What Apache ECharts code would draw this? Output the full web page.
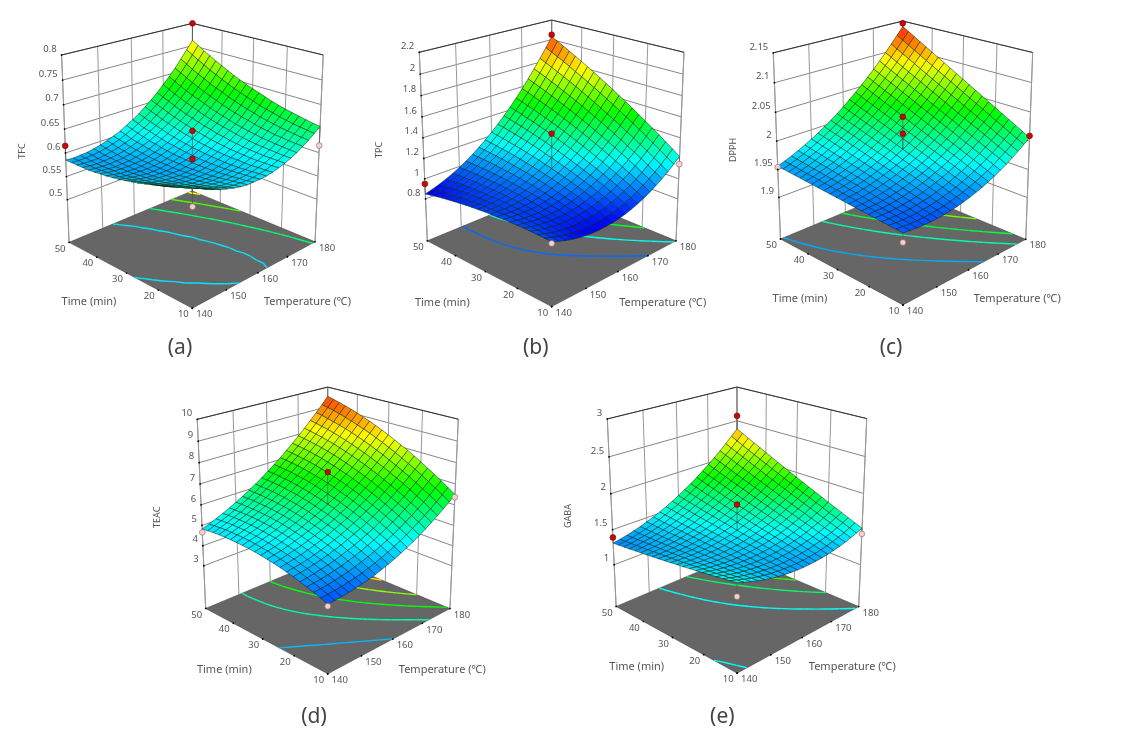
<!DOCTYPE html><html><head><meta charset="utf-8"><style>html,body{margin:0;padding:0;background:#fff}#c{width:1122px;height:739px}</style>
<script src="https://cdn.jsdelivr.net/npm/echarts@6/dist/echarts.min.js"></script></head><body><div id="c"></div><script>
// Surface heights. Rows: time 10..50 min. Columns: temperature 140..180 C.
const tfcSurface=[
[.640,.631,.624,.617,.611,.607,.603,.600,.598,.598,.598,.599,.601,.605,.609,.614,.620,.628,.636,.645,.655],
[.634,.626,.619,.612,.607,.603,.599,.597,.596,.595,.596,.598,.600,.604,.609,.614,.621,.629,.637,.647,.657],
[.629,.621,.614,.608,.603,.599,.596,.594,.594,.594,.595,.597,.600,.604,.609,.615,.622,.630,.639,.649,.660],
[.623,.616,.609,.604,.600,.596,.594,.592,.592,.592,.594,.596,.599,.604,.609,.616,.623,.632,.641,.651,.663],
[.618,.611,.605,.600,.596,.593,.591,.590,.590,.591,.593,.595,.599,.604,.610,.617,.625,.633,.643,.654,.666],
[.614,.607,.602,.597,.593,.590,.589,.588,.588,.590,.592,.595,.600,.605,.611,.618,.626,.636,.646,.657,.669],
[.610,.603,.598,.594,.591,.588,.587,.587,.587,.589,.592,.595,.600,.606,.612,.620,.629,.638,.649,.661,.673],
[.606,.600,.595,.591,.588,.586,.586,.586,.587,.589,.592,.596,.601,.607,.614,.622,.631,.641,.652,.664,.677],
[.602,.597,.592,.589,.586,.585,.584,.585,.586,.589,.592,.597,.602,.609,.616,.625,.634,.645,.656,.668,.682],
[.599,.594,.590,.587,.585,.584,.584,.584,.586,.589,.593,.598,.604,.611,.619,.628,.637,.648,.660,.673,.687],
[.596,.591,.588,.585,.583,.583,.583,.584,.587,.590,.594,.600,.606,.613,.621,.631,.641,.652,.664,.678,.692],
[.593,.589,.586,.584,.582,.582,.583,.585,.587,.591,.596,.601,.608,.616,.625,.634,.645,.656,.669,.683,.697],
[.591,.587,.584,.583,.582,.582,.583,.585,.588,.592,.598,.604,.611,.619,.628,.638,.649,.661,.674,.688,.703],
[.589,.586,.583,.582,.581,.582,.584,.586,.590,.594,.600,.606,.614,.622,.632,.642,.654,.666,.680,.694,.709],
[.588,.585,.583,.582,.582,.583,.584,.587,.591,.596,.602,.609,.617,.626,.636,.647,.659,.671,.685,.700,.716],
[.586,.584,.582,.581,.582,.583,.586,.589,.593,.599,.605,.612,.621,.630,.640,.652,.664,.677,.691,.707,.723],
[.585,.583,.582,.582,.583,.584,.587,.591,.596,.601,.608,.616,.625,.634,.645,.657,.669,.683,.698,.713,.730],
[.585,.583,.582,.583,.584,.586,.589,.593,.598,.605,.612,.620,.629,.639,.650,.662,.675,.689,.704,.721,.738],
[.585,.583,.583,.583,.585,.588,.591,.596,.601,.608,.615,.624,.634,.644,.656,.668,.681,.696,.711,.728,.745],
[.585,.584,.584,.585,.587,.590,.594,.599,.605,.612,.620,.628,.638,.649,.661,.674,.688,.703,.719,.736,.754],
[.585,.584,.585,.586,.589,.592,.597,.602,.608,.616,.624,.633,.644,.655,.667,.681,.695,.710,.727,.744,.762]
];
const tpcSurface=[
[.960,.934,.912,.894,.880,.870,.864,.863,.866,.872,.883,.898,.918,.941,.968,1.000,1.036,1.076,1.120,1.168,1.220],
[.963,.939,.919,.903,.891,.884,.881,.881,.886,.896,.909,.926,.948,.973,1.003,1.037,1.075,1.117,1.164,1.214,1.269],
[.964,.942,.925,.912,.902,.897,.896,.899,.906,.918,.933,.953,.977,1.005,1.037,1.073,1.113,1.158,1.206,1.259,1.316],
[.965,.946,.930,.919,.912,.909,.911,.916,.926,.939,.957,.979,1.005,1.036,1.070,1.108,1.151,1.198,1.249,1.304,1.363],
[.965,.948,.935,.926,.921,.921,.924,.932,.944,.960,.980,1.004,1.033,1.065,1.102,1.143,1.188,1.237,1.290,1.347,1.409],
[.964,.949,.939,.932,.930,.931,.937,.947,.962,.980,1.002,1.029,1.060,1.094,1.133,1.176,1.224,1.275,1.331,1.390,1.454],
[.962,.950,.942,.937,.937,.941,.949,.962,.978,.999,1.024,1.052,1.085,1.123,1.164,1.209,1.259,1.313,1.370,1.432,1.498],
[.960,.950,.944,.942,.944,.950,.961,.975,.994,1.017,1.044,1.075,1.110,1.150,1.193,1.241,1.293,1.349,1.409,1.473,1.542],
[.956,.948,.945,.945,.950,.958,.971,.988,1.009,1.034,1.064,1.097,1.135,1.176,1.222,1.272,1.326,1.385,1.447,1.514,1.584],
[.952,.947,.945,.948,.955,.966,.981,1.000,1.023,1.051,1.082,1.118,1.158,1.202,1.250,1.303,1.359,1.420,1.484,1.553,1.626],
[.947,.944,.945,.950,.959,.972,.989,1.011,1.037,1.066,1.100,1.138,1.181,1.227,1.277,1.332,1.391,1.454,1.521,1.592,1.667],
[.941,.940,.943,.951,.962,.978,.997,1.021,1.049,1.081,1.117,1.158,1.202,1.251,1.304,1.361,1.422,1.487,1.556,1.630,1.707],
[.934,.936,.941,.951,.964,.982,1.004,1.030,1.061,1.095,1.134,1.176,1.223,1.274,1.329,1.388,1.452,1.519,1.591,1.666,1.746],
[.927,.930,.938,.950,.966,.986,1.010,1.039,1.071,1.108,1.149,1.194,1.243,1.296,1.354,1.415,1.481,1.551,1.625,1.703,1.785],
[.918,.924,.934,.949,.967,.989,1.016,1.047,1.081,1.120,1.164,1.211,1.262,1.318,1.377,1.441,1.509,1.581,1.658,1.738,1.822],
[.909,.917,.930,.946,.967,.991,1.020,1.053,1.091,1.132,1.177,1.227,1.281,1.338,1.400,1.466,1.537,1.611,1.690,1.772,1.859],
[.899,.909,.924,.943,.966,.993,1.024,1.059,1.099,1.142,1.190,1.242,1.298,1.358,1.422,1.491,1.563,1.640,1.721,1.806,1.895],
[.888,.901,.918,.939,.964,.993,1.027,1.065,1.106,1.152,1.202,1.256,1.315,1.377,1.444,1.514,1.589,1.668,1.751,1.839,1.930],
[.876,.891,.911,.934,.961,.993,1.029,1.069,1.113,1.161,1.213,1.270,1.330,1.395,1.464,1.537,1.614,1.696,1.781,1.870,1.964],
[.864,.881,.903,.928,.958,.992,1.030,1.072,1.119,1.169,1.224,1.283,1.345,1.413,1.484,1.559,1.638,1.722,1.810,1.902,1.998],
[.850,.870,.894,.922,.954,.990,1.030,1.075,1.124,1.176,1.233,1.294,1.360,1.429,1.502,1.580,1.662,1.748,1.838,1.932,2.030]
];
const dpphSurface=[
[1.94,1.9386,1.9376,1.9372,1.9372,1.9378,1.9388,1.9404,1.9424,1.945,1.948,1.9516,1.9556,1.9602,1.9652,1.9708,1.9768,1.9834,1.9904,1.998,2.006],
[1.9408,1.9397,1.939,1.9389,1.9392,1.9401,1.9414,1.9433,1.9456,1.9485,1.9518,1.9556,1.9599,1.9648,1.9701,1.976,1.9823,1.9892,1.9965,2.0044,2.0127],
[1.9416,1.9408,1.9404,1.9406,1.9412,1.9424,1.9439,1.9461,1.9487,1.9519,1.9555,1.9597,1.9643,1.9695,1.9751,1.9813,1.9878,1.995,2.0026,2.0107,2.0194],
[1.9424,1.9419,1.9418,1.9423,1.9431,1.9446,1.9465,1.9489,1.9519,1.9554,1.9593,1.9637,1.9686,1.9741,1.98,1.9865,1.9934,2.0008,2.0087,2.0172,2.0261],
[1.9432,1.943,1.9432,1.9439,1.9451,1.9468,1.9491,1.9518,1.955,1.9588,1.963,1.9678,1.973,1.9788,1.985,1.9918,1.9989,2.0067,2.0148,2.0236,2.0328],
[1.944,1.9441,1.9446,1.9456,1.9471,1.9492,1.9517,1.9547,1.9582,1.9623,1.9668,1.9718,1.9773,1.9834,1.9899,1.9969,2.0044,2.0125,2.021,2.0299,2.0395],
[1.9448,1.9452,1.9459,1.9472,1.9491,1.9514,1.9542,1.9576,1.9614,1.9657,1.9705,1.9758,1.9816,1.988,1.9948,2.0021,2.0099,2.0182,2.0271,2.0364,2.0462],
[1.9456,1.9463,1.9473,1.949,1.9511,1.9537,1.9568,1.9605,1.9645,1.9692,1.9743,1.9799,1.986,1.9926,1.9997,2.0074,2.0154,2.0241,2.0332,2.0428,2.0529],
[1.9464,1.9474,1.9487,1.9507,1.953,1.956,1.9594,1.9633,1.9677,1.9726,1.978,1.984,1.9903,1.9973,2.0046,2.0126,2.021,2.0299,2.0393,2.0492,2.0596],
[1.9472,1.9485,1.9501,1.9524,1.955,1.9583,1.9619,1.9661,1.9708,1.976,1.9818,1.988,1.9947,2.0019,2.0096,2.0178,2.0265,2.0357,2.0454,2.0556,2.0663],
[1.948,1.9496,1.9515,1.9541,1.957,1.9605,1.9645,1.969,1.974,1.9796,1.9855,1.9921,1.999,2.0066,2.0145,2.0231,2.032,2.0416,2.0515,2.0621,2.073],
[1.9488,1.9506,1.9529,1.9557,1.959,1.9628,1.9671,1.9719,1.9772,1.983,1.9893,1.9961,2.0033,2.0112,2.0194,2.0283,2.0375,2.0474,2.0576,2.0685,2.0797],
[1.9496,1.9517,1.9543,1.9574,1.961,1.9651,1.9696,1.9748,1.9803,1.9865,1.993,2.0001,2.0077,2.0158,2.0244,2.0335,2.043,2.0532,2.0637,2.0749,2.0864],
[1.9504,1.9528,1.9557,1.9591,1.9629,1.9674,1.9722,1.9776,1.9835,1.9899,1.9968,2.0042,2.012,2.0205,2.0293,2.0387,2.0486,2.059,2.0698,2.0813,2.0931],
[1.9512,1.9539,1.9571,1.9608,1.9649,1.9697,1.9748,1.9805,1.9866,1.9934,2.0005,2.0082,2.0164,2.0251,2.0342,2.044,2.0541,2.0648,2.0759,2.0876,2.0998],
[1.952,1.955,1.9585,1.9625,1.9669,1.9718,1.9774,1.9834,1.9898,1.9968,2.0043,2.0123,2.0207,2.0297,2.0392,2.0492,2.0596,2.0707,2.0821,2.094,2.1065],
[1.9528,1.9561,1.9598,1.9642,1.9689,1.9742,1.9799,1.9862,1.993,2.0003,2.008,2.0163,2.025,2.0344,2.0441,2.0544,2.0651,2.0764,2.0882,2.1005,2.1132],
[1.9536,1.9572,1.9612,1.9658,1.9709,1.9764,1.9825,1.9891,1.9961,2.0037,2.0118,2.0204,2.0294,2.039,2.049,2.0596,2.0706,2.0823,2.0943,2.1069,2.1199],
[1.9544,1.9583,1.9626,1.9675,1.9728,1.9787,1.9851,1.992,1.9993,2.0072,2.0155,2.0244,2.0337,2.0436,2.0539,2.0648,2.0762,2.0881,2.1004,2.1133,2.1266],
[1.9552,1.9594,1.964,1.9692,1.9748,1.981,1.9876,1.9948,2.0024,2.0106,2.0193,2.0285,2.0381,2.0483,2.0589,2.0701,2.0817,2.0939,2.1065,2.1197,2.1333],
[1.956,1.9605,1.9654,1.9709,1.9768,1.9833,1.9902,1.9977,2.0056,2.0141,2.023,2.0326,2.0424,2.0529,2.0638,2.0753,2.0872,2.0998,2.1127,2.1262,2.14]
];
const teacSurface=[
[3.99,4.00,4.03,4.07,4.12,4.18,4.25,4.33,4.43,4.54,4.66,4.79,4.93,5.08,5.25,5.43,5.62,5.82,6.03,6.25,6.49],
[4.11,4.13,4.16,4.20,4.26,4.32,4.40,4.49,4.59,4.71,4.83,4.97,5.11,5.27,5.45,5.63,5.82,6.03,6.25,6.48,6.72],
[4.22,4.24,4.28,4.33,4.39,4.46,4.55,4.64,4.75,4.87,5.00,5.14,5.29,5.46,5.63,5.82,6.02,6.23,6.46,6.69,6.94],
[4.32,4.35,4.39,4.45,4.51,4.59,4.68,4.78,4.89,5.02,5.15,5.30,5.46,5.63,5.81,6.01,6.21,6.43,6.66,6.90,7.15],
[4.41,4.45,4.50,4.56,4.63,4.71,4.81,4.91,5.03,5.16,5.30,5.45,5.62,5.80,5.98,6.18,6.39,6.62,6.85,7.10,7.35],
[4.50,4.54,4.60,4.66,4.74,4.83,4.93,5.04,5.16,5.30,5.44,5.60,5.77,5.95,6.15,6.35,6.57,6.80,7.04,7.29,7.55],
[4.58,4.63,4.68,4.75,4.84,4.93,5.04,5.15,5.28,5.42,5.58,5.74,5.91,6.10,6.30,6.51,6.73,6.97,7.21,7.47,7.74],
[4.65,4.70,4.77,4.84,4.93,5.03,5.14,5.26,5.40,5.54,5.70,5.87,6.05,6.24,6.45,6.66,6.89,7.13,7.38,7.64,7.92],
[4.71,4.77,4.84,4.92,5.01,5.12,5.23,5.36,5.50,5.65,5.82,5.99,6.18,6.38,6.59,6.81,7.04,7.29,7.54,7.81,8.09],
[4.76,4.83,4.90,4.99,5.09,5.20,5.32,5.46,5.60,5.76,5.93,6.11,6.30,6.50,6.72,6.94,7.18,7.43,7.70,7.97,8.25],
[4.81,4.88,4.96,5.05,5.16,5.27,5.40,5.54,5.69,5.85,6.03,6.21,6.41,6.62,6.84,7.07,7.32,7.57,7.84,8.12,8.41],
[4.85,4.92,5.01,5.11,5.22,5.34,5.47,5.62,5.77,5.94,6.12,6.31,6.52,6.73,6.96,7.19,7.44,7.70,7.98,8.26,8.56],
[4.88,4.96,5.05,5.15,5.27,5.40,5.53,5.69,5.85,6.02,6.21,6.40,6.61,6.83,7.06,7.31,7.56,7.83,8.11,8.40,8.70],
[4.90,4.99,5.08,5.19,5.31,5.45,5.59,5.75,5.91,6.09,6.28,6.49,6.70,6.92,7.16,7.41,7.67,7.94,8.23,8.52,8.83],
[4.91,5.01,5.11,5.22,5.35,5.49,5.64,5.80,5.97,6.16,6.35,6.56,6.78,7.01,7.25,7.51,7.77,8.05,8.34,8.64,8.95],
[4.92,5.02,5.13,5.25,5.38,5.52,5.68,5.84,6.02,6.21,6.41,6.63,6.85,7.09,7.34,7.60,7.87,8.15,8.45,8.75,9.07],
[4.92,5.02,5.13,5.26,5.40,5.55,5.71,5.88,6.06,6.26,6.47,6.68,6.92,7.16,7.41,7.68,7.95,8.24,8.54,8.85,9.18],
[4.91,5.02,5.14,5.27,5.41,5.56,5.73,5.91,6.10,6.30,6.51,6.74,6.97,7.22,7.48,7.75,8.03,8.33,8.63,8.95,9.28],
[4.89,5.00,5.13,5.27,5.41,5.57,5.75,5.93,6.12,6.33,6.55,6.78,7.02,7.27,7.54,7.81,8.10,8.40,8.71,9.04,9.37],
[4.86,4.98,5.11,5.26,5.41,5.58,5.75,5.94,6.14,6.35,6.58,6.81,7.06,7.32,7.59,7.87,8.16,8.47,8.79,9.11,9.45],
[4.83,4.95,5.09,5.24,5.40,5.57,5.75,5.95,6.15,6.37,6.60,6.84,7.09,7.36,7.63,7.92,8.22,8.53,8.85,9.18,9.53]
];
const gabaSurface=[
[1.550,1.514,1.481,1.452,1.426,1.405,1.387,1.372,1.362,1.355,1.351,1.352,1.356,1.363,1.375,1.390,1.408,1.431,1.457,1.487,1.520],
[1.535,1.501,1.471,1.445,1.422,1.403,1.388,1.377,1.369,1.364,1.364,1.367,1.374,1.384,1.398,1.416,1.437,1.463,1.491,1.524,1.560],
[1.520,1.489,1.462,1.439,1.419,1.402,1.390,1.381,1.376,1.374,1.377,1.382,1.392,1.405,1.422,1.442,1.467,1.495,1.526,1.561,1.600],
[1.506,1.478,1.453,1.432,1.415,1.402,1.392,1.386,1.383,1.385,1.390,1.398,1.410,1.426,1.446,1.469,1.496,1.527,1.561,1.599,1.641],
[1.492,1.466,1.444,1.426,1.412,1.401,1.394,1.391,1.391,1.395,1.403,1.414,1.429,1.448,1.470,1.496,1.526,1.559,1.596,1.637,1.682],
[1.478,1.455,1.436,1.421,1.409,1.401,1.397,1.396,1.399,1.406,1.417,1.431,1.448,1.470,1.495,1.524,1.556,1.592,1.632,1.676,1.723],
[1.464,1.445,1.428,1.416,1.407,1.402,1.400,1.402,1.408,1.418,1.431,1.448,1.468,1.492,1.520,1.552,1.587,1.626,1.668,1.715,1.764],
[1.451,1.434,1.421,1.411,1.405,1.402,1.403,1.408,1.417,1.429,1.445,1.465,1.488,1.515,1.545,1.580,1.618,1.659,1.705,1.754,1.806],
[1.438,1.424,1.413,1.406,1.403,1.403,1.407,1.415,1.426,1.441,1.460,1.482,1.508,1.538,1.571,1.608,1.649,1.693,1.741,1.793,1.848],
[1.426,1.414,1.406,1.402,1.401,1.404,1.411,1.422,1.436,1.453,1.475,1.500,1.529,1.561,1.597,1.637,1.680,1.728,1.778,1.833,1.891],
[1.414,1.405,1.400,1.398,1.400,1.406,1.416,1.429,1.445,1.466,1.490,1.518,1.549,1.585,1.624,1.666,1.712,1.762,1.816,1.873,1.934],
[1.402,1.396,1.393,1.395,1.399,1.408,1.420,1.436,1.456,1.479,1.506,1.536,1.571,1.609,1.650,1.695,1.744,1.797,1.853,1.913,1.977],
[1.390,1.387,1.387,1.391,1.399,1.410,1.425,1.444,1.466,1.492,1.522,1.555,1.592,1.633,1.677,1.725,1.777,1.832,1.891,1.954,2.020],
[1.379,1.379,1.382,1.388,1.399,1.413,1.430,1.452,1.477,1.506,1.538,1.574,1.614,1.657,1.704,1.755,1.810,1.868,1.930,1.995,2.064],
[1.368,1.371,1.376,1.386,1.399,1.416,1.436,1.460,1.488,1.520,1.555,1.594,1.636,1.682,1.732,1.786,1.843,1.904,1.968,2.037,2.108],
[1.358,1.363,1.371,1.383,1.399,1.419,1.442,1.469,1.499,1.534,1.572,1.613,1.658,1.707,1.760,1.816,1.876,1.940,2.007,2.078,2.153],
[1.348,1.355,1.367,1.381,1.400,1.422,1.448,1.478,1.511,1.548,1.589,1.633,1.681,1.733,1.788,1.847,1.910,1.976,2.047,2.120,2.198],
[1.338,1.348,1.362,1.380,1.401,1.426,1.455,1.487,1.523,1.563,1.607,1.654,1.704,1.759,1.817,1.879,1.944,2.013,2.086,2.163,2.243],
[1.328,1.341,1.358,1.379,1.403,1.430,1.462,1.497,1.536,1.578,1.625,1.674,1.728,1.785,1.846,1.910,1.979,2.051,2.126,2.205,2.288],
[1.319,1.335,1.354,1.378,1.404,1.435,1.469,1.507,1.549,1.594,1.643,1.695,1.752,1.812,1.875,1.942,2.013,2.088,2.166,2.248,2.334],
[1.310,1.329,1.351,1.377,1.406,1.440,1.477,1.517,1.562,1.610,1.661,1.717,1.776,1.838,1.905,1.975,2.048,2.126,2.207,2.292,2.380]
];
const timeTicks=[10,20,30,40,50];
const tempTicks=[140,150,160,170,180];
const tfcTicks=[.5,.55,.6,.65,.7,.75,.8];
const tpcTicks=[.8,1,1.2,1.4,1.6,1.8,2,2.2];
const dpphTicks=[1.9,1.95,2,2.05,2.1,2.15];
const teacTicks=[3,4,5,6,7,8,9,10];
const gabaTicks=[1,1.5,2,2.5,3];
const tfcLevels=[.6,.65,.7,.75];
const tpcLevels=[1,1.2,1.44,1.66];
const dpphLevels=[1.958,1.993,2.019,2.056];
const teacLevels=[4.67,5.66,6.6,7.55,8.5];
const gabaLevels=[1.5,1.72,1.92,2.12];
// Design points: time, temperature, response, above-surface flag
const tfcPoints=[[50,180,.8,1],[50,140,.615,1],[10,180,.615,0],[10,140,.602,0],[30,160,.646,1],[30,160,.587,1]];
const tpcPoints=[[50,180,2.05,1],[50,140,.95,1],[10,180,1.144,0],[10,140,.945,0],[30,160,1.44,1]];
const dpphPoints=[[50,180,2.146,1],[50,140,1.954,0],[10,180,2.009,1],[10,140,1.925,0],[30,160,2.042,1],[30,160,2.013,1]];
const teacPoints=[[50,140,4.66,0],[10,180,6.37,0],[10,140,3.89,0],[30,160,7.56,1]];
const gabaPoints=[[50,180,2.575,1],[50,140,1.39,1],[10,180,1.44,0],[10,140,1.376,0],[30,160,1.85,1]];
const panels=[
{name:'TFC',caption:'(a)',s:tfcSurface,zmin:.406,ticks:tfcTicks,top:.8,lo:.535,hi:.825,levels:tfcLevels,pts:tfcPoints,
 c:{F:[192.3,308.3],L:[69,242.3],R:[315,241.7],B:[192.3,191],LT:[61.7,55],RT:[323.3,55],BT:[192.3,23.3]},time:[89,302],temp:[307.5,302],zl:[22,151],cap:[180,348]},
{name:'TPC',caption:'(b)',s:tpcSurface,zmin:.374,ticks:tpcTicks,top:2.2,lo:.87,hi:2.1,levels:tpcLevels,pts:tpcPoints,
 c:{F:[551.7,306.7],L:[427.3,240.7],R:[676,240.7],B:[551.7,189.7],LT:[419.3,52.3],RT:[684,52.3],BT:[551.7,20]},time:[442.3,303],temp:[662.7,303],zl:[379.3,150],cap:[535.7,348]},
{name:'DPPH',caption:'(c)',s:dpphSurface,zmin:1.824,ticks:dpphTicks,top:2.15,lo:1.92,hi:2.145,levels:dpphLevels,pts:dpphPoints,
 c:{F:[902.7,305],L:[780.7,239],R:[1026,239],B:[902.7,188.3],LT:[773.3,52.7],RT:[1032.7,52.7],BT:[902.7,21]},time:[800,299],temp:[1017.3,299],zl:[733.3,150],cap:[891,348]},
{name:'TEAC',caption:'(d)',s:teacSurface,zmin:.82,ticks:teacTicks,top:10,lo:3.5,hi:9.85,levels:teacLevels,pts:teacPoints,
 c:{F:[327.7,674],L:[205.7,608.3],R:[450,608.3],B:[327.7,557.7],LT:[197.3,419.3],RT:[458.3,419.3],BT:[327.7,387]},time:[224.3,670],temp:[442.3,670],zl:[157.7,517.3],cap:[314,716.7]},
{name:'GABA',caption:'(e)',s:gabaSurface,zmin:.388,ticks:gabaTicks,top:3,lo:1.12,hi:2.62,levels:gabaLevels,pts:gabaPoints,
 c:{F:[737.7,673.3],L:[615.7,606],R:[858.3,606.7],B:[737.7,555.3],LT:[607.3,419.3],RT:[866.7,418.3],BT:[737,387]},time:[636.7,667.3],temp:[852.3,667.3],zl:[568.3,516],cap:[722.3,716.7]}
];
const GREY='#555',FONT='"Noto Sans",sans-serif';
function solve(A,b){const n=b.length;for(let i=0;i<n;i++){let m=i;for(let k=i+1;k<n;k++)if(Math.abs(A[k][i])>Math.abs(A[m][i]))m=k;[A[i],A[m]]=[A[m],A[i]];[b[i],b[m]]=[b[m],b[i]];for(let k=i+1;k<n;k++){const f=A[k][i]/A[i][i];for(let l=i;l<n;l++)A[k][l]-=f*A[i][l];b[k]-=f*b[i]}}const x=Array(n).fill(0);for(let i=n-1;i>=0;i--){let s=b[i];for(let l=i+1;l<n;l++)s-=A[i][l]*x[l];x[i]=s/A[i][i]}return x}
function camera(c){const cx=c.F[0],cy=c.B[1];const P=[[0,0,0,c.F],[1,0,0,c.L],[0,1,0,c.R],[1,1,0,c.B],[1,0,1,c.LT],[0,1,1,c.RT],[1,1,1,c.BT]];
 const rows=[],rhs=[];for(const [U,V,W,pt] of P){const x=(pt[0]-cx)/100,y=(pt[1]-cy)/100;rows.push([U,V,W,1,0,0,0,0,-x*U,-x*V,-x*W]);rhs.push(x);rows.push([0,0,0,0,U,V,W,1,-y*U,-y*V,-y*W]);rhs.push(y)}
 const A=[],b=[];for(let i=0;i<11;i++){A.push(Array(11).fill(0));b.push(0);for(let r=0;r<rows.length;r++){b[i]+=rows[r][i]*rhs[r];for(let j=0;j<11;j++)A[i][j]+=rows[r][i]*rows[r][j]}}
 for(let i=0;i<11;i++)A[i][i]+=1e-9;const p=solve(A,b);
 return (U,V,W)=>{const d=p[8]*U+p[9]*V+p[10]*W+1;return [cx+100*(p[0]*U+p[1]*V+p[2]*W+p[3])/d,cy+100*(p[4]*U+p[5]*V+p[6]*W+p[7])/d]}}
const STOPS=[[0,0,0,255],[.25,0,255,255],[.5,0,255,0],[.75,255,255,0],[1,255,0,0]];
function cmap(t){t=Math.max(0,Math.min(1,t));for(let k=1;k<STOPS.length;k++){if(t<=STOPS[k][0]){const a=STOPS[k-1],b=STOPS[k],f=(t-a[0])/(b[0]-a[0]);return 'rgb('+[1,2,3].map(i=>Math.round(a[i]+(b[i]-a[i])*f)).join(',')+')'}}return 'rgb(255,0,0)'}
const series=[];
panels.forEach(p=>{
 const cam=camera(p.c);const N=p.s.length-1;
 const W=z=>(z-p.zmin)/(p.top-p.zmin);
 const prj=(time,temp,z)=>cam((time-10)/40,(temp-140)/40,W(z));
 const col=z=>cmap((z-p.lo)/(p.hi-p.lo));
 const line=(api,a,b,stroke,lw)=>{const A=api.coord(a),B=api.coord(b);return {type:'line',shape:{x1:A[0],y1:A[1],x2:B[0],y2:B[1]},style:{stroke,lineWidth:lw}}};
 const base={type:'custom',coordinateSystem:'cartesian2d',silent:true,animation:false,clip:false,encode:{x:0,y:1}};
 series.push(Object.assign({},base,{name:p.name+' frame',z:1,data:[[0,0]],renderItem:(x,api)=>{const ch=[];
  p.ticks.forEach(w=>{ch.push(line(api,prj(50,140,w),prj(50,180,w),'#666',.8));ch.push(line(api,prj(50,180,w),prj(10,180,w),'#666',.8))});
  tempTicks.forEach(t=>ch.push(line(api,prj(50,t,p.zmin),prj(50,t,p.top),t==180?'#777':'#999',1)));
  timeTicks.forEach(t=>ch.push(line(api,prj(t,180,p.zmin),prj(t,180,p.top),t==50?'#777':'#999',1)));
  ch.push(line(api,prj(50,140,p.zmin),prj(50,140,p.top),'#999',1));ch.push(line(api,prj(10,180,p.zmin),prj(10,180,p.top),'#999',1));
  ch.push(line(api,prj(50,140,p.top),prj(50,180,p.top),'#333',1));ch.push(line(api,prj(50,180,p.top),prj(10,180,p.top),'#333',1));
  const fl=[prj(10,140,p.zmin),prj(50,140,p.zmin),prj(50,180,p.zmin),prj(10,180,p.zmin)].map(q=>api.coord(q));
  ch.push({type:'polygon',shape:{points:fl},style:{fill:'#666',stroke:'#444',lineWidth:.6}});
  return {type:'group',children:ch}}}));
 series.push(Object.assign({},base,{name:p.name+' contours',z:2,data:p.levels.map((l,i)=>[i,0]),renderItem:(x,api)=>{const lev=p.levels[api.value(0)];const ch=[];const st=col(lev);
  const tt=i=>10+40*i/N,TT=j=>140+40*j/N;
  for(let i=0;i<N;i++)for(let j=0;j<N;j++){const C=[[i,j],[i+1,j],[i+1,j+1],[i,j+1]];const pts=[];
   for(let k=0;k<4;k++){const a=C[k],b=C[(k+1)%4],za=p.s[a[0]][a[1]],zb=p.s[b[0]][b[1]];if((za<lev)!==(zb<lev)){const f=(lev-za)/(zb-za);pts.push(prj(tt(a[0]+(b[0]-a[0])*f),TT(a[1]+(b[1]-a[1])*f),p.zmin))}}
   if(pts.length>=2)ch.push(line(api,pts[0],pts[1],st,1.4));if(pts.length==4)ch.push(line(api,pts[2],pts[3],st,1.4))}
  return {type:'group',children:ch}}}));
 const cells=[];for(let i=N-1;i>=0;i--)for(let j=N-1;j>=0;j--)cells.push([i,j]);
 cells.sort((a,b)=>(b[0]+b[1])-(a[0]+a[1]));
 series.push(Object.assign({},base,{name:p.name+' surface',z:3,data:cells,renderItem:(x,api)=>{const i=api.value(0),j=api.value(1);const C=[[i,j],[i+1,j],[i+1,j+1],[i,j+1]];let s=0;
  const pts=C.map(c=>{const z=p.s[c[0]][c[1]];s+=z;return api.coord(prj(10+40*c[0]/N,140+40*c[1]/N,z))});
  return {type:'polygon',shape:{points:pts},style:{fill:col(s/4),stroke:'rgba(10,35,15,.72)',lineWidth:.7}}}}));
 series.push(Object.assign({},base,{name:p.name+' design points',z:4,data:p.pts.map((q,i)=>[i,0]),renderItem:(x,api)=>{const q=p.pts[api.value(0)];
  const i=Math.round((q[0]-10)/40*N),j=Math.round((q[1]-140)/40*N);const a=api.coord(prj(q[0],q[1],q[2]));
  return {type:'group',children:[line(api,prj(q[0],q[1],q[2]),prj(q[0],q[1],p.s[i][j]),'#555',.7),{type:'circle',shape:{cx:a[0],cy:a[1],r:2.9},style:{fill:q[3]?'#c40a0a':'#f6cfcf',stroke:q[3]?'#700':'#866',lineWidth:.6}}]}}}));
 series.push(Object.assign({},base,{name:p.name+' labels',z:5,data:[[0,0]],renderItem:(x,api)=>{const ch=[];
  const txt=(t,pos,size,o)=>{const a=api.coord(pos);return Object.assign({type:'text',x:a[0],y:a[1],style:{text:t,fill:(o&&o.fill)||GREY,font:size+'px '+FONT,align:(o&&o.align)||'center',verticalAlign:'middle'}},o&&o.el||{})};
  const dot=q=>{const a=api.coord(q);return {type:'circle',shape:{cx:a[0],cy:a[1],r:.9},style:{fill:'#000'}}};
  p.ticks.forEach(t=>{const q=prj(50,140,t);ch.push(dot(q));ch.push(txt(String(t),[q[0]-5,q[1]-6],9.5,{align:'right'}))});
  timeTicks.forEach(t=>{const q=prj(t,140,p.zmin);ch.push(dot(q));ch.push(txt(String(t),[q[0]-9,q[1]+6.5],9.5))});
  tempTicks.forEach(t=>{const q=prj(10,t,p.zmin);ch.push(dot(q));ch.push(txt(String(t),[q[0]+12,q[1]+6.5],9.5))});
  ch.push(txt('Time (min)',p.time,11));ch.push(txt('Temperature (℃)',p.temp,11));
  ch.push(txt(p.name,p.zl,9,{el:{rotation:Math.PI/2}}));
  ch.push(txt(p.caption,p.cap,21,{fill:'#444'}));
  return {type:'group',children:ch}}}));
});
const chart=echarts.init(document.getElementById('c'));
chart.setOption({animation:false,backgroundColor:'#fff',grid:{left:0,right:0,top:0,bottom:0},xAxis:{type:'value',min:0,max:1122,show:false},yAxis:{type:'value',min:0,max:739,inverse:true,show:false},series});
</script></body></html>
